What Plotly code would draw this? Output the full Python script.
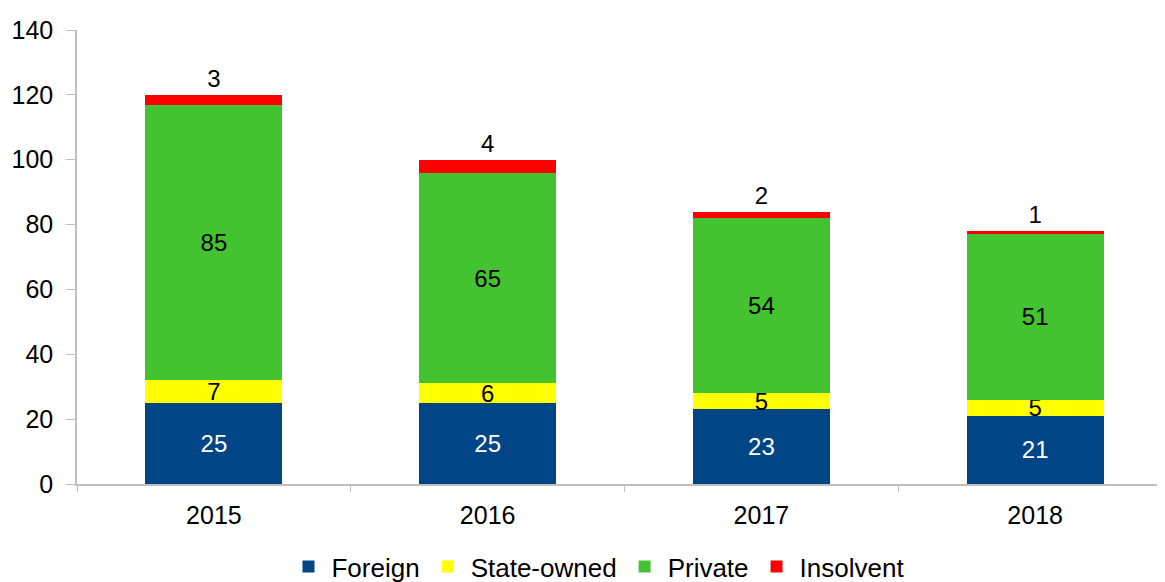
import plotly.graph_objects as go

years = ["2015", "2016", "2017", "2018"]
foreign = [25, 25, 23, 21]
state_owned = [7, 6, 5, 5]
private = [85, 65, 54, 51]
insolvent = [3, 4, 2, 1]

FONT = "Liberation Sans, Arial, sans-serif"
LBL = 24

fig = go.Figure()
fig.add_bar(x=years, y=foreign, name="Foreign", marker_color="#004586",
            text=foreign, textposition="inside", insidetextanchor="middle",
            textfont=dict(color="white", size=LBL, family=FONT))
fig.add_bar(x=years, y=state_owned, name="State-owned", marker_color="#FFFF00",
            text=state_owned, textposition="inside", insidetextanchor="middle",
            textfont=dict(color="black", size=LBL, family=FONT))
fig.add_bar(x=years, y=private, name="Private", marker_color="#43C330",
            text=private, textposition="inside", insidetextanchor="middle",
            textfont=dict(color="black", size=LBL, family=FONT))
fig.add_bar(x=years, y=insolvent, name="Insolvent", marker_color="#FF0000",
            text=insolvent, textposition="outside", cliponaxis=False,
            textfont=dict(color="black", size=LBL, family=FONT))

fig.update_traces(marker_line_width=0, textangle=0)
fig.update_layout(
    barmode="stack", bargap=0.5,
    width=1165, height=582,
    margin=dict(l=69, r=1, t=22, b=106, autoexpand=False),
    plot_bgcolor="white", paper_bgcolor="white",
    font=dict(family=FONT, size=25, color="black"),
    uniformtext=dict(minsize=LBL, mode="show"),
    showlegend=True,
    legend=dict(orientation="h", xref="container", yref="container",
                x=0.506, xanchor="center", y=-0.015, yanchor="bottom",
                font=dict(size=26), itemwidth=36, traceorder="normal"),
    xaxis=dict(showline=True, linecolor="#BFBFBF", linewidth=1.5,
               ticks="outside", tickson="boundaries", ticklen=6, tickcolor="#BFBFBF",
               tickfont=dict(size=25), showgrid=False, automargin=False,
               ticklabelstandoff=8),
    yaxis=dict(range=[0, 140], dtick=20, showline=True, linecolor="#BFBFBF", linewidth=1.5,
               ticks="outside", ticklen=9, tickcolor="#BFBFBF", showgrid=False,
               zeroline=False, tickfont=dict(size=25), automargin=False,
               ticklabelstandoff=8),
)

fig.write_html("out.html")
